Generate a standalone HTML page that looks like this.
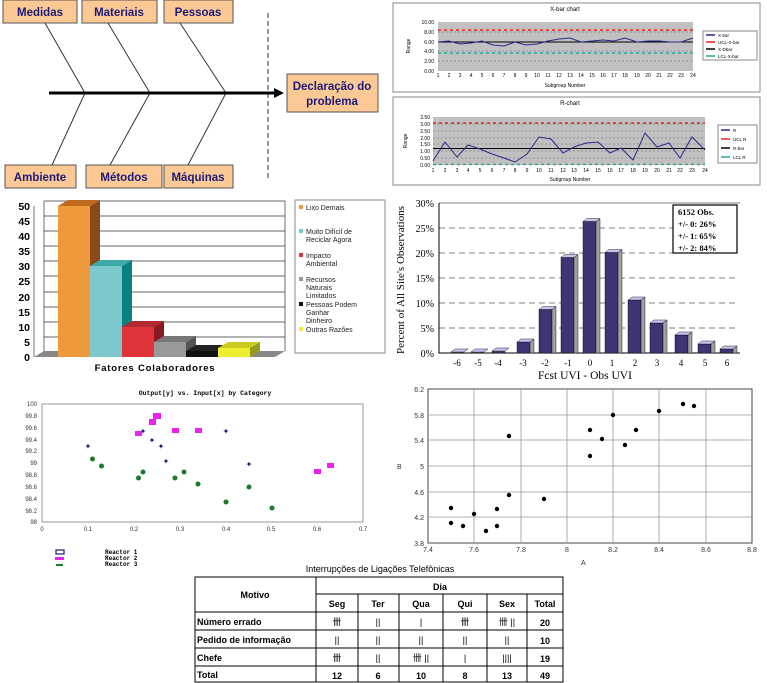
<!DOCTYPE html>
<html><head><meta charset="utf-8"><style>
html,body{margin:0;padding:0;background:#fff;}
svg{display:block;font-family:"Liberation Sans",sans-serif;}
</style></head><body>
<svg width="767" height="683" viewBox="0 0 767 683" xmlns="http://www.w3.org/2000/svg">
<!-- Fishbone -->
<g stroke="#333" stroke-width="1" fill="none">
<line x1="45" y1="23" x2="85" y2="93"/><line x1="108" y1="23" x2="150" y2="93"/><line x1="180" y1="23" x2="226" y2="93"/>
<line x1="85" y1="93" x2="52" y2="165"/><line x1="150" y1="93" x2="110" y2="165"/><line x1="226" y1="93" x2="188" y2="165"/>
<line x1="268" y1="13" x2="268" y2="178" stroke-dasharray="5,3"/>
</g>
<line x1="49" y1="93" x2="276" y2="93" stroke="#000" stroke-width="3"/>
<polygon points="274,88 284,93 274,98" fill="#000"/>
<g fill="#fcc893" stroke="#555" stroke-width="1">
<rect x="3" y="0" width="74" height="23"/><rect x="82" y="0" width="75" height="23"/><rect x="164" y="0" width="69" height="23"/>
<rect x="5" y="165" width="71" height="23"/><rect x="86" y="165" width="76" height="23"/><rect x="164" y="165" width="69" height="23"/>
<rect x="287" y="74" width="91" height="38"/>
</g>
<g fill="#1b1b7a" font-weight="bold" font-size="11.5" text-anchor="middle">
<text x="40" y="16">Medidas</text><text x="119" y="16">Materiais</text><text x="198" y="16">Pessoas</text>
<text x="40" y="181">Ambiente</text><text x="124" y="181">Métodos</text><text x="198" y="181">Máquinas</text>
<text x="332" y="90">Declaração do</text><text x="332" y="105">problema</text>
</g>
<!-- X-bar chart -->
<rect x="393" y="3" width="367" height="89" fill="#fff" stroke="#888"/>
<text x="565" y="11" font-size="6" text-anchor="middle">X-bar chart</text>
<rect x="438" y="22" width="255" height="49" fill="#c0c0c0"/>
<g stroke="#666" stroke-width="0.5" stroke-dasharray="2,2"><line x1="438" y1="32" x2="693" y2="32"/><line x1="438" y1="42" x2="693" y2="42"/><line x1="438" y1="51" x2="693" y2="51"/><line x1="438" y1="61" x2="693" y2="61"/></g>
<g font-size="5" text-anchor="end"><text x="434" y="24">10.00</text><text x="434" y="34">8.00</text><text x="434" y="44">6.00</text><text x="434" y="53">4.00</text><text x="434" y="63">2.00</text><text x="434" y="73">0.00</text></g>
<text x="410" y="46" font-size="5" transform="rotate(-90 410 46)" text-anchor="middle">Range</text>
<line x1="438" y1="30" x2="693" y2="30" stroke="#e22" stroke-width="1.5" stroke-dasharray="3,3"/>
<line x1="438" y1="53" x2="693" y2="53" stroke="#2a9" stroke-width="1.5" stroke-dasharray="3,3"/>
<line x1="438" y1="42" x2="693" y2="42" stroke="#000" stroke-width="1"/>
<polyline fill="none" stroke="#2a2a8a" stroke-width="1" points="438,42 449,41 460,44 471,43 482,41 493,45 504,46 515,42 526,45 537,44 548,41 559,39 570,38 581,42 592,41 603,40 614,41 625,38 637,42 648,41 659,41 670,42 681,42 693,38"/>
<g font-size="5" text-anchor="middle" id="xl"><text x="438" y="77">1</text><text x="449" y="77">2</text><text x="460" y="77">3</text><text x="471" y="77">4</text><text x="482" y="77">5</text><text x="493" y="77">6</text><text x="504" y="77">7</text><text x="515" y="77">8</text><text x="526" y="77">9</text><text x="537" y="77">10</text><text x="548" y="77">11</text><text x="559" y="77">12</text><text x="570" y="77">13</text><text x="581" y="77">14</text><text x="592" y="77">15</text><text x="603" y="77">16</text><text x="614" y="77">17</text><text x="625" y="77">18</text><text x="637" y="77">19</text><text x="648" y="77">20</text><text x="659" y="77">21</text><text x="670" y="77">22</text><text x="681" y="77">23</text><text x="693" y="77">24</text></g>
<text x="565" y="87" font-size="5" text-anchor="middle">Subgroup Number</text>
<rect x="703" y="31" width="54" height="29" fill="#fff" stroke="#888"/>
<g font-size="4.5"><text x="718" y="37">X-bar</text><text x="718" y="44">UCL-X-bar</text><text x="718" y="51">X-Dbar</text><text x="718" y="58">LCL-X-bar</text></g>
<g stroke-width="1.5"><line x1="706" y1="35" x2="715" y2="35" stroke="#2a2a8a"/><line x1="706" y1="42" x2="715" y2="42" stroke="#e22"/><line x1="706" y1="49" x2="715" y2="49" stroke="#000"/><line x1="706" y1="56" x2="715" y2="56" stroke="#2a9"/></g>
<!-- R chart -->
<rect x="393" y="97" width="367" height="88" fill="#fff" stroke="#888"/>
<text x="570" y="105" font-size="6" text-anchor="middle">R-chart</text>
<rect x="433" y="117" width="272" height="48" fill="#c0c0c0"/>
<g stroke="#666" stroke-width="0.5" stroke-dasharray="2,2"><line x1="433" y1="124" x2="705" y2="124"/><line x1="433" y1="131" x2="705" y2="131"/><line x1="433" y1="138" x2="705" y2="138"/><line x1="433" y1="144" x2="705" y2="144"/><line x1="433" y1="151" x2="705" y2="151"/><line x1="433" y1="158" x2="705" y2="158"/></g>
<g font-size="5" text-anchor="end"><text x="430" y="119">3.50</text><text x="430" y="126">3.00</text><text x="430" y="133">2.50</text><text x="430" y="140">2.00</text><text x="430" y="146">1.50</text><text x="430" y="153">1.00</text><text x="430" y="160">0.50</text><text x="430" y="167">0.00</text></g>
<text x="407" y="141" font-size="5" transform="rotate(-90 407 141)" text-anchor="middle">Range</text>
<line x1="433" y1="123" x2="705" y2="123" stroke="#e22" stroke-width="1.5" stroke-dasharray="3,3"/>
<line x1="433" y1="164.5" x2="705" y2="164.5" stroke="#2a9" stroke-width="1.5" stroke-dasharray="3,3"/>
<line x1="433" y1="148.5" x2="705" y2="148.5" stroke="#000" stroke-width="1"/>
<polyline fill="none" stroke="#2a2a8a" stroke-width="1" points="433,161 445,142 457,157 468,145 480,149 492,154 504,158 515,162 527,154 539,137 551,139 563,153 574,147 586,143 598,142 610,153 621,148 633,160 645,133 657,147 669,143 680,158 692,137 705,150"/>
<g font-size="5" text-anchor="middle"><text x="433" y="172">1</text><text x="445" y="172">2</text><text x="457" y="172">3</text><text x="468" y="172">4</text><text x="480" y="172">5</text><text x="492" y="172">6</text><text x="504" y="172">7</text><text x="515" y="172">8</text><text x="527" y="172">9</text><text x="539" y="172">10</text><text x="551" y="172">11</text><text x="563" y="172">12</text><text x="574" y="172">13</text><text x="586" y="172">14</text><text x="598" y="172">15</text><text x="610" y="172">16</text><text x="621" y="172">17</text><text x="633" y="172">18</text><text x="645" y="172">19</text><text x="657" y="172">20</text><text x="669" y="172">21</text><text x="680" y="172">22</text><text x="692" y="172">23</text><text x="705" y="172">24</text></g>
<text x="570" y="181" font-size="5" text-anchor="middle">Subgroup Number</text>
<rect x="718" y="125" width="39" height="38" fill="#fff" stroke="#888"/>
<g font-size="4.5"><text x="733" y="132">R</text><text x="733" y="141">UCL R</text><text x="733" y="150">R-bar</text><text x="733" y="159">LCL R</text></g>
<g stroke-width="1.5"><line x1="721" y1="130" x2="730" y2="130" stroke="#2a2a8a"/><line x1="721" y1="139" x2="730" y2="139" stroke="#e22"/><line x1="721" y1="148" x2="730" y2="148" stroke="#000"/><line x1="721" y1="157" x2="730" y2="157" stroke="#2a9"/></g>
<!-- 3D bar chart -->
<g stroke="#333" stroke-width="0.7">
<line x1="44" y1="201" x2="285" y2="201"/><line x1="44" y1="216" x2="285" y2="216"/><line x1="44" y1="231" x2="285" y2="231"/><line x1="44" y1="246" x2="285" y2="246"/><line x1="44" y1="261" x2="285" y2="261"/><line x1="44" y1="276" x2="285" y2="276"/><line x1="44" y1="292" x2="285" y2="292"/><line x1="44" y1="307" x2="285" y2="307"/><line x1="44" y1="322" x2="285" y2="322"/><line x1="44" y1="337" x2="285" y2="337"/>
<line x1="44" y1="201" x2="44" y2="351"/><line x1="285" y1="201" x2="285" y2="351"/>
<line x1="34" y1="206" x2="34" y2="357"/>
</g>
<polygon points="34,357 44,351 285,351 275,357" fill="#888"/>
<g font-size="10.5" font-weight="bold" text-anchor="end"><text x="30" y="210">50</text><text x="30" y="225">45</text><text x="30" y="240">40</text><text x="30" y="255">35</text><text x="30" y="270">30</text><text x="30" y="285">25</text><text x="30" y="301">20</text><text x="30" y="316">15</text><text x="30" y="331">10</text><text x="30" y="346">5</text><text x="30" y="361">0</text></g>
<!-- bars: front, side, top -->
<rect x="58" y="206" width="32" height="151" fill="#ef9a3a"/><polygon points="90,206 100,200 100,351 90,357" fill="#8a4a1a"/><polygon points="58,206 68,200 100,200 90,206" fill="#c06a20"/>
<rect x="90" y="266" width="32" height="91" fill="#7cc8cc"/><polygon points="122,266 132,260 132,351 122,357" fill="#0a8080"/><polygon points="90,266 100,260 132,260 122,266" fill="#40aaaa"/>
<rect x="122" y="327" width="32" height="30" fill="#e0343a"/><polygon points="154,327 164,321 164,351 154,357" fill="#8a1a20"/><polygon points="122,327 132,321 164,321 154,327" fill="#b02a30"/>
<rect x="154" y="342" width="32" height="15" fill="#999"/><polygon points="186,342 196,336 196,351 186,357" fill="#555"/><polygon points="154,342 164,336 196,336 186,342" fill="#777"/>
<rect x="186" y="351" width="32" height="6" fill="#111"/><polygon points="186,351 196,345 228,345 218,351" fill="#222"/>
<rect x="218" y="348" width="32" height="9" fill="#eeee30"/><polygon points="250,348 260,342 260,351 250,357" fill="#999920"/><polygon points="218,348 228,342 260,342 250,348" fill="#cccc20"/>
<text x="155" y="371" font-size="9.5" font-weight="bold" text-anchor="middle" letter-spacing="0.8">Fatores Colaboradores</text>
<rect x="295" y="200" width="90" height="153" fill="#fff" stroke="#888"/>
<g font-size="7" fill="#222"><text x="306" y="210">Lixo Demais</text><text x="306" y="234">Muito Difícil de</text><text x="306" y="242">Reciclar Agora</text><text x="306" y="258">Impacto</text><text x="306" y="266">Ambiental</text><text x="306" y="282">Recursos</text><text x="306" y="290">Naturais</text><text x="306" y="298">Limitados</text><text x="306" y="307">Pessoas Podem</text><text x="306" y="315">Ganhar</text><text x="306" y="323">Dinheiro</text><text x="306" y="332">Outras Razões</text></g>
<rect x="299" y="205" width="4" height="4" fill="#ef9a3a"/><rect x="299" y="229" width="4" height="4" fill="#7cc8cc"/><rect x="299" y="253" width="4" height="4" fill="#e0343a"/><rect x="299" y="277" width="4" height="4" fill="#999"/><rect x="299" y="302" width="4" height="4" fill="#111"/><rect x="299" y="327" width="4" height="4" fill="#eeee30"/>
<!-- Histogram -->
<g stroke="#555" stroke-width="0.8" stroke-dasharray="6,4"><line x1="439" y1="228" x2="738" y2="228"/><line x1="439" y1="253" x2="738" y2="253"/><line x1="439" y1="278" x2="738" y2="278"/><line x1="439" y1="303" x2="738" y2="303"/><line x1="439" y1="328" x2="738" y2="328"/></g>
<polyline points="439,203 439,353 740,353" fill="none" stroke="#000" stroke-width="1"/>
<line x1="439" y1="203" x2="740" y2="203" stroke="#000" stroke-width="0.6"/>
<g font-family="Liberation Serif,serif" font-size="10" text-anchor="end"><text x="434" y="207">30%</text><text x="434" y="232">25%</text><text x="434" y="257">20%</text><text x="434" y="282">15%</text><text x="434" y="307">10%</text><text x="434" y="332">5%</text><text x="434" y="357">0%</text></g>
<text x="404" y="280" font-family="Liberation Serif,serif" font-size="11" text-anchor="middle" transform="rotate(-90 404 280)">Percent of All Site's Observations</text>
<g id="bars"></g>
<g fill="#3e3574" stroke="#000" stroke-width="0.4">
<rect x="451" y="352.5" width="13" height="0.5"/><rect x="471" y="352.5" width="13" height="0.5"/><rect x="492" y="351.5" width="13" height="1.5"/><rect x="517" y="342" width="13" height="11"/><rect x="539" y="309.5" width="13" height="43.5"/><rect x="561" y="257.5" width="13" height="95.5"/><rect x="583" y="221.5" width="13" height="131.5"/><rect x="605" y="252.5" width="13" height="100.5"/><rect x="628" y="300" width="13" height="53"/><rect x="650" y="323" width="13" height="30"/><rect x="675" y="335" width="13" height="18"/><rect x="698" y="344" width="13" height="9"/><rect x="720" y="349" width="13" height="4"/>
</g>
<g fill="#a0a0a0" stroke="#000" stroke-width="0.4">
<polygon points="530,342 534,339 534,353 530,353"/><polygon points="552,309.5 556,306.5 556,353 552,353"/><polygon points="574,257.5 578,254.5 578,353 574,353"/><polygon points="596,221.5 600,218.5 600,353 596,353"/><polygon points="618,252.5 622,249.5 622,353 618,353"/><polygon points="641,300 645,297 645,353 641,353"/><polygon points="663,323 667,320 667,353 663,353"/><polygon points="688,335 692,332 692,353 688,353"/><polygon points="711,344 715,341 715,353 711,353"/><polygon points="733,349 737,346 737,353 733,353"/>
</g>
<g fill="#c8c4f0" stroke="#000" stroke-width="0.4">
<polygon points="451,352 455,349 468,349 464,352"/><polygon points="471,352 475,349 488,349 484,352"/><polygon points="492,351 496,348 509,348 505,351"/><polygon points="517,342 521,339 534,339 530,342"/><polygon points="539,309.5 543,306.5 556,306.5 552,309.5"/><polygon points="561,257.5 565,254.5 578,254.5 574,257.5"/><polygon points="583,221.5 587,218.5 600,218.5 596,221.5"/><polygon points="605,252.5 609,249.5 622,249.5 618,252.5"/><polygon points="628,300 632,297 645,297 641,300"/><polygon points="650,323 654,320 667,320 663,323"/><polygon points="675,335 679,332 692,332 688,335"/><polygon points="698,344 702,341 715,341 711,344"/><polygon points="720,349 724,346 737,346 733,349"/>
</g>
<g font-family="Liberation Serif,serif" font-size="9" text-anchor="middle"><text x="457" y="366">-6</text><text x="478" y="366">-5</text><text x="498" y="366">-4</text><text x="523" y="366">-3</text><text x="545" y="366">-2</text><text x="568" y="366">-1</text><text x="590" y="366">0</text><text x="612" y="366">1</text><text x="635" y="366">2</text><text x="657" y="366">3</text><text x="681" y="366">4</text><text x="705" y="366">5</text><text x="727" y="366">6</text></g>
<text x="585" y="379" font-family="Liberation Serif,serif" font-size="11.5" text-anchor="middle">Fcst UVI - Obs UVI</text>
<rect x="673" y="205" width="64" height="48" fill="#fff" stroke="#000" stroke-width="1.2"/>
<g font-family="Liberation Serif,serif" font-size="8.5" font-weight="bold"><text x="678" y="215">6152 Obs.</text><text x="678" y="227">+/- 0: 26%</text><text x="678" y="239">+/- 1: 65%</text><text x="678" y="251">+/- 2: 84%</text></g>
<!-- Scatter 1 -->
<text x="205" y="395" font-size="6.5" font-weight="bold" text-anchor="middle" font-family="Liberation Mono,monospace">Output[y] vs. Input[x] by Category</text>
<rect x="42" y="404" width="321" height="118" fill="#fff" stroke="#999"/>
<g font-size="6" text-anchor="end" fill="#333"><text x="37" y="406">100</text><text x="37" y="418">99.8</text><text x="37" y="430">99.6</text><text x="37" y="442">99.4</text><text x="37" y="453">99.2</text><text x="37" y="465">99</text><text x="37" y="477">98.8</text><text x="37" y="489">98.6</text><text x="37" y="501">98.4</text><text x="37" y="513">98.2</text><text x="37" y="524">98</text></g>
<g font-size="6" text-anchor="middle" fill="#333"><text x="42" y="531">0</text><text x="88" y="531">0.1</text><text x="134" y="531">0.2</text><text x="180" y="531">0.3</text><text x="226" y="531">0.4</text><text x="271" y="531">0.5</text><text x="317" y="531">0.6</text><text x="363" y="531">0.7</text></g>
<g fill="#1a1a6a" font-size="8" text-anchor="middle"><text x="88" y="449">✦</text><text x="143" y="434">✦</text><text x="152" y="443">✦</text><text x="161" y="449">✦</text><text x="166" y="464">✦</text><text x="226" y="434">✦</text><text x="249" y="467">✦</text></g>
<g fill="#ee22ee"><rect x="135" y="431" width="7" height="5"/><rect x="149" y="419" width="7" height="6"/><rect x="153" y="413" width="8" height="6"/><rect x="172" y="428" width="7" height="5"/><rect x="195" y="428" width="7" height="5"/><rect x="314" y="469" width="7" height="5"/><rect x="327" y="463" width="7" height="5"/></g>
<g fill="#1a7a2a"><circle cx="92.5" cy="459" r="2.5"/><circle cx="101.5" cy="466" r="2.5"/><circle cx="143" cy="472" r="2.5"/><circle cx="138.5" cy="478" r="2.5"/><circle cx="175" cy="478" r="2.5"/><circle cx="184" cy="472" r="2.5"/><circle cx="198" cy="484" r="2.5"/><circle cx="249" cy="487" r="2.5"/><circle cx="226" cy="502" r="2.5"/><circle cx="272" cy="508" r="2.5"/></g>
<rect x="56" y="550" width="8" height="4" fill="#fff" stroke="#1a1a6a" stroke-width="1.2"/>
<rect x="55" y="557" width="9" height="3" fill="#ee22ee"/>
<rect x="56" y="564" width="7" height="2" fill="#1a7a2a"/>
<g font-size="6" font-weight="bold" font-family="Liberation Mono,monospace"><text x="105" y="554">Reactor 1</text><text x="105" y="560">Reactor 2</text><text x="105" y="566">Reactor 3</text></g>
<!-- Scatter 2 -->
<rect x="428" y="389" width="324" height="154" fill="#fff" stroke="#444"/>
<g stroke="#999" stroke-width="0.8"><line x1="474" y1="389" x2="474" y2="543"/><line x1="521" y1="389" x2="521" y2="543"/><line x1="567" y1="389" x2="567" y2="543"/><line x1="613" y1="389" x2="613" y2="543"/><line x1="659" y1="389" x2="659" y2="543"/><line x1="706" y1="389" x2="706" y2="543"/><line x1="428" y1="415" x2="752" y2="415"/><line x1="428" y1="440" x2="752" y2="440"/><line x1="428" y1="466" x2="752" y2="466"/><line x1="428" y1="492" x2="752" y2="492"/><line x1="428" y1="517" x2="752" y2="517"/></g>
<g font-size="7" text-anchor="end" fill="#333"><text x="424" y="392">6.2</text><text x="424" y="418">5.8</text><text x="424" y="443">5.4</text><text x="424" y="469">5</text><text x="424" y="495">4.6</text><text x="424" y="520">4.2</text><text x="424" y="546">3.8</text></g>
<g font-size="7" text-anchor="middle" fill="#333"><text x="428" y="552">7.4</text><text x="474" y="552">7.6</text><text x="521" y="552">7.8</text><text x="567" y="552">8</text><text x="613" y="552">8.2</text><text x="659" y="552">8.4</text><text x="706" y="552">8.6</text><text x="752" y="552">8.8</text></g>
<text x="397" y="469" font-size="7" fill="#333">B</text><text x="581" y="565" font-size="7" fill="#333">A</text>
<g fill="#000"><circle cx="451" cy="508" r="2.2"/><circle cx="451" cy="523" r="2.2"/><circle cx="463" cy="526" r="2.2"/><circle cx="474" cy="514" r="2.2"/><circle cx="486" cy="531" r="2.2"/><circle cx="497" cy="509" r="2.2"/><circle cx="497" cy="526" r="2.2"/><circle cx="509" cy="495" r="2.2"/><circle cx="509" cy="436" r="2.2"/><circle cx="544" cy="499" r="2.2"/><circle cx="590" cy="456" r="2.2"/><circle cx="590" cy="430" r="2.2"/><circle cx="602" cy="439" r="2.2"/><circle cx="613" cy="415" r="2.2"/><circle cx="625" cy="445" r="2.2"/><circle cx="636" cy="430" r="2.2"/><circle cx="659" cy="411" r="2.2"/><circle cx="683" cy="404" r="2.2"/><circle cx="694" cy="406" r="2.2"/></g>
<!-- Table -->
<text x="380" y="572" font-size="9" text-anchor="middle" fill="#000">Interrupções de Ligações Telefônicas</text>
<g stroke="#000" stroke-width="1" fill="none">
<rect x="195" y="577" width="368" height="105"/>
<line x1="316" y1="594" x2="563" y2="594"/><line x1="195" y1="612" x2="563" y2="612"/><line x1="195" y1="630" x2="563" y2="630"/><line x1="195" y1="648" x2="563" y2="648"/><line x1="195" y1="666" x2="563" y2="666"/>
<line x1="316" y1="577" x2="316" y2="682"/><line x1="358" y1="594" x2="358" y2="682"/><line x1="399" y1="594" x2="399" y2="682"/><line x1="443" y1="594" x2="443" y2="682"/><line x1="487" y1="594" x2="487" y2="682"/><line x1="527" y1="594" x2="527" y2="682"/>
</g>
<g font-size="9" font-weight="bold" text-anchor="middle"><text x="255" y="598">Motivo</text><text x="440" y="590">Dia</text><text x="337" y="607">Seg</text><text x="378" y="607">Ter</text><text x="421" y="607">Qua</text><text x="465" y="607">Qui</text><text x="507" y="607">Sex</text><text x="545" y="607">Total</text></g>
<g font-size="9" font-weight="bold"><text x="197" y="625">Número errado</text><text x="197" y="643">Pedido de informação</text><text x="197" y="661">Chefe</text><text x="197" y="678">Total</text></g>
<g font-size="9" text-anchor="middle"><text x="337" y="625">卌</text><text x="378" y="625">||</text><text x="421" y="625">|</text><text x="465" y="625">卌</text><text x="507" y="625">卌 ||</text>
<text x="337" y="643">||</text><text x="378" y="643">||</text><text x="421" y="643">||</text><text x="465" y="643">||</text><text x="507" y="643">||</text>
<text x="337" y="661">卌</text><text x="378" y="661">||</text><text x="421" y="661">卌 ||</text><text x="465" y="661">|</text><text x="507" y="661">||||</text></g>
<g font-size="9" font-weight="bold" text-anchor="middle"><text x="545" y="626">20</text><text x="545" y="644">10</text><text x="545" y="662">19</text><text x="337" y="679">12</text><text x="378" y="679">6</text><text x="421" y="679">10</text><text x="465" y="679">8</text><text x="507" y="679">13</text><text x="545" y="679">49</text></g>
</svg>
</body></html>
